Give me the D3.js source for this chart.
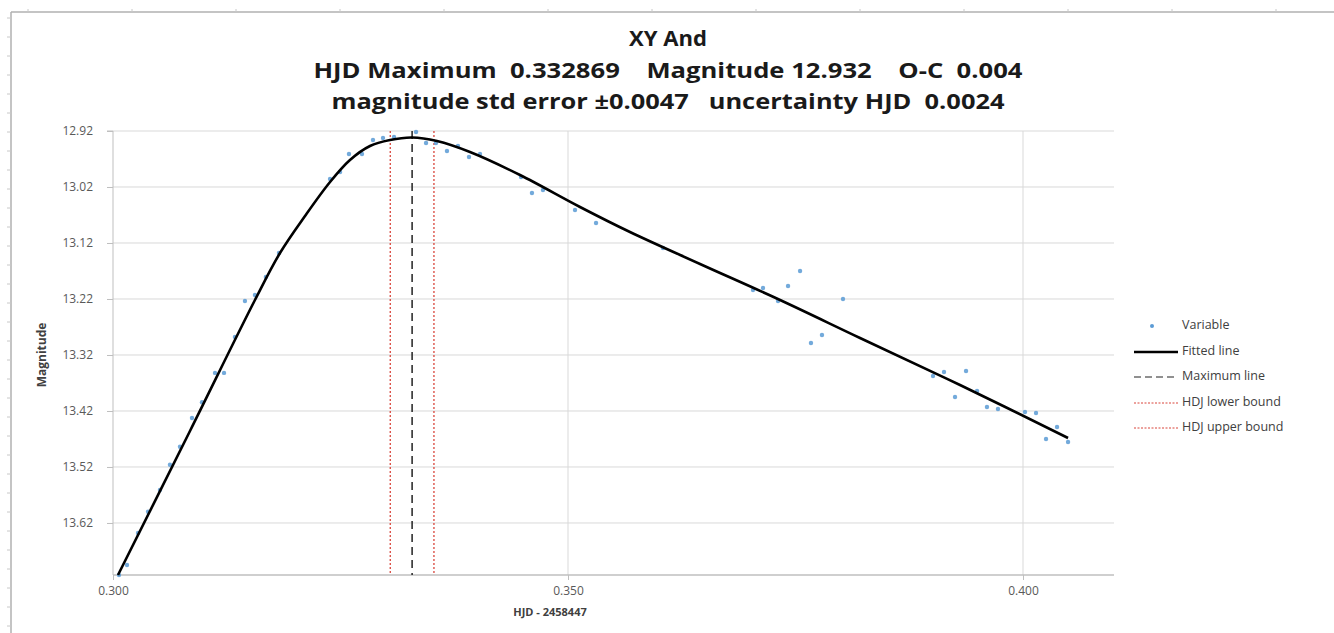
<!DOCTYPE html>
<html>
<head>
<meta charset="utf-8">
<script src="https://cdn.jsdelivr.net/npm/d3@7"></script>
<style>
  html, body { margin: 0; padding: 0; background: #fff; }
  svg { display: block; }
</style>
</head>
<body>
<svg id="chart" width="1334" height="633"></svg>
<script>
// ---- data ----
const titleLines = [
  "XY And",
  "HJD Maximum  0.332869    Magnitude 12.932    O-C  0.004",
  "magnitude std error \u00B10.0047   uncertainty HJD  0.0024"
];
const xLabel = "HJD - 2458447";
const yLabel = "Magnitude";
const xTicks = [0.300, 0.350, 0.400];
const yTicks = [12.92, 13.02, 13.12, 13.22, 13.32, 13.42, 13.52, 13.62];

// observed points (Variable)
const obsHJD = [0.30066,0.30154,0.30275,0.30385,0.30516,0.30626,0.30736,0.30868,0.30978,0.31121,0.3122,0.3134,0.3145,0.3156,0.3168,0.31824,
  0.32385,0.32495,0.32593,0.32736,0.32857,0.32967,0.33088,0.3333,0.3344,0.33549,0.3367,0.33791,0.33912,0.34033,
  0.34484,0.34604,0.34725,0.35077,0.35308,0.36044,
  0.37033,0.37143,0.37308,0.37418,0.3755,0.3767,0.37791,0.38022,
  0.39011,0.39132,0.39374,0.39253,0.39495,0.39604,0.39725,0.40022,0.40143,0.40374,0.40253,0.40495];
const obsMag = [13.713,13.695,13.638,13.600,13.561,13.516,13.484,13.4325,13.4043,13.352,13.352,13.288,13.2236,13.2129,13.1807,13.1379,
  13.0057,12.9932,12.961,12.961,12.936,12.9325,12.9307,12.9218,12.9414,12.9414,12.9557,12.9468,12.9664,12.961,
  13.0021,13.0307,13.0254,13.0611,13.0843,13.1289,
  13.2039,13.2004,13.2236,13.1968,13.17,13.2986,13.2843,13.22,
  13.3575,13.3504,13.3486,13.395,13.3843,13.4129,13.4164,13.4218,13.4236,13.4486,13.47,13.4754];

// fitted line
const fitHJD = [0.30055,0.30846,0.31560,0.31835,0.32110,0.32385,0.32604,0.32824,0.33044,0.33286,0.33560,0.33923,0.34473,0.35132,0.35681,0.36451,0.37330,0.38209,0.39308,0.40495];
const fitMag = [13.7129,13.4557,13.2218,13.1379,13.0718,13.0111,12.9718,12.9468,12.9361,12.9316,12.9379,12.9575,12.9986,13.0557,13.1004,13.1575,13.2218,13.2896,13.3736,13.4682];

const hjdMax = 0.332869;
const hjdUnc = 0.0024;

const legendLabels = ["Variable", "Fitted line", "Maximum line", "HDJ lower bound", "HDJ upper bound"];

// ---- drawing ----
const svg = d3.select("#chart");
const x = d3.scaleLinear().domain([0.300, 0.410]).range([113, 1114]);
const y = d3.scaleLinear().domain([12.92, 13.7129]).range([131, 575]);

const gridColor = "#d9d9d9";
const axisColor = "#bfbfbf";
const textColor = "#595959";
const ptColor = "#5b9bd5";

// outer frame (left + top) with small ticks
svg.append("line").attr("x1", 11).attr("x2", 11).attr("y1", 12).attr("y2", 633).attr("stroke", "#b0b0b0").attr("stroke-width", 1.5);
svg.append("line").attr("x1", 11).attr("x2", 1334).attr("y1", 12).attr("y2", 12).attr("stroke", "#b0b0b0").attr("stroke-width", 1.5);
const leftTicks = d3.range(18, 633, 19);
svg.append("g").selectAll("line").data(leftTicks).join("line")
  .attr("x1", 7).attr("x2", 11).attr("y1", d => d).attr("y2", d => d)
  .attr("stroke", "#c8c8c8");
const topTicks = d3.range(28, 1334, 104);
svg.append("g").selectAll("line").data(topTicks).join("line")
  .attr("x1", d => d).attr("x2", d => d).attr("y1", 9).attr("y2", 12)
  .attr("stroke", "#c8c8c8");

// gridlines
svg.append("g").selectAll("line").data(yTicks).join("line")
  .attr("x1", x(0.300)).attr("x2", x(0.410))
  .attr("y1", d => y(d)).attr("y2", d => y(d))
  .attr("stroke", gridColor).attr("stroke-width", 1);
svg.append("g").selectAll("line").data(xTicks.slice(1)).join("line")
  .attr("x1", d => x(d)).attr("x2", d => x(d))
  .attr("y1", y(12.92)).attr("y2", y(13.7129))
  .attr("stroke", gridColor).attr("stroke-width", 1);

// axes
const yAxis = d3.axisLeft(y).tickValues(yTicks).tickFormat(d3.format(".2f")).tickSize(6).tickPadding(14);
const gy = svg.append("g").attr("transform", `translate(${x(0.300)},0)`).call(yAxis);
gy.select(".domain").attr("stroke", axisColor).attr("d", `M-6,${y(12.92)}H0V${y(13.7129)}`);
gy.selectAll(".tick line").attr("stroke", axisColor);
gy.selectAll(".tick text").attr("fill", textColor).style("font-family", "Open Sans, sans-serif").style("font-size", "12px");

const xa = d3.axisBottom(x).tickValues(xTicks).tickFormat(d3.format(".3f")).tickSize(5).tickPadding(6);
const gx = svg.append("g").attr("transform", `translate(0,${y(13.7129)})`).call(xa);
gx.select(".domain").attr("stroke", axisColor).attr("stroke-width", 1.5).attr("d", `M${x(0.300)},0H${x(0.410)}`);
gx.selectAll(".tick line").attr("stroke", axisColor);
gx.selectAll(".tick text").attr("fill", textColor).style("font-family", "Open Sans, sans-serif").style("font-size", "12px");

// axis titles
svg.append("text").attr("x", 550).attr("y", 616).attr("text-anchor", "middle")
  .attr("fill", "#404040").style("font-family", "Open Sans, sans-serif")
  .style("font-weight", "bold").style("font-size", "11px").text(xLabel);
svg.append("text").attr("transform", "translate(46,355) rotate(-90)").attr("text-anchor", "middle")
  .attr("fill", "#404040").style("font-family", "Open Sans, sans-serif")
  .style("font-weight", "bold").style("font-size", "12px").text(yLabel);

// bound and max lines
svg.append("line").attr("x1", x(hjdMax - hjdUnc)).attr("x2", x(hjdMax - hjdUnc))
  .attr("y1", y(12.92)).attr("y2", y(13.7129)).attr("stroke", "#d9453b").attr("stroke-width", 1.3).attr("stroke-dasharray", "2,2");
svg.append("line").attr("x1", x(hjdMax + hjdUnc)).attr("x2", x(hjdMax + hjdUnc))
  .attr("y1", y(12.92)).attr("y2", y(13.7129)).attr("stroke", "#d9453b").attr("stroke-width", 1.3).attr("stroke-dasharray", "2,2");
svg.append("line").attr("x1", x(hjdMax)).attr("x2", x(hjdMax))
  .attr("y1", y(12.92)).attr("y2", y(13.7129)).attr("stroke", "#222").attr("stroke-width", 1.5).attr("stroke-dasharray", "8,5");

// points
const obs = obsHJD.map((h, i) => ({h, m: obsMag[i]}));
svg.append("g").selectAll("circle").data(obs).join("circle")
  .attr("cx", d => x(d.h)).attr("cy", d => y(d.m)).attr("r", 2.2)
  .attr("fill", ptColor).attr("opacity", 0.85);

// fitted line
const fit = fitHJD.map((h, i) => ({h, m: fitMag[i]}));
svg.append("path").datum(fit)
  .attr("d", d3.line().x(d => x(d.h)).y(d => y(d.m)).curve(d3.curveCatmullRom.alpha(0.5)))
  .attr("fill", "none").attr("stroke", "#000").attr("stroke-width", 2.6);

// title
const titleY = [40, 72, 103];
const titleW = [78, 709, 673];
titleLines.forEach((t, i) => {
  svg.append("text").attr("x", 668).attr("y", titleY[i]).attr("text-anchor", "middle")
    .attr("dominant-baseline", "middle").attr("fill", "#1a1a1a")
    .style("font-family", "Open Sans, sans-serif").style("font-weight", "bold")
    .style("font-size", "21px").attr("xml:space", "preserve").style("white-space", "pre")
    .attr("textLength", titleW[i]).attr("lengthAdjust", "spacingAndGlyphs").text(t);
});

// legend
const legY = [326, 352, 377, 403, 428];
const leg = svg.append("g");
legendLabels.forEach((lab, i) => {
  const yy = legY[i];
  if (i === 0) {
    leg.append("circle").attr("cx", 1152).attr("cy", yy).attr("r", 2).attr("fill", ptColor);
  } else if (i === 1) {
    leg.append("line").attr("x1", 1134).attr("x2", 1178).attr("y1", yy).attr("y2", yy).attr("stroke", "#000").attr("stroke-width", 2.6);
  } else if (i === 2) {
    leg.append("line").attr("x1", 1134).attr("x2", 1178).attr("y1", yy).attr("y2", yy).attr("stroke", "#222").attr("stroke-width", 1.2).attr("stroke-dasharray", "7,4");
  } else {
    leg.append("line").attr("x1", 1134).attr("x2", 1178).attr("y1", yy).attr("y2", yy).attr("stroke", "#d9453b").attr("stroke-width", 1).attr("stroke-dasharray", "2,1.5");
  }
  leg.append("text").attr("x", 1182).attr("y", yy).attr("dominant-baseline", "middle")
    .attr("fill", "#404040").style("font-family", "Open Sans, sans-serif").style("font-size", "12.5px").text(lab);
});
</script>
</body>
</html>
